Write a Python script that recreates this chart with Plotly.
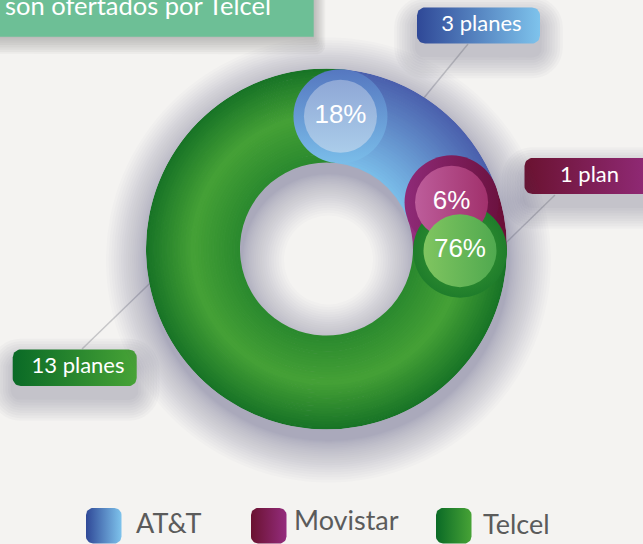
import numpy as np
import plotly.graph_objects as go

# ---------------- data ----------------
carriers = ['AT&T', 'Movistar', 'Telcel']
plans = [3, 1, 13]
plan_labels = ['3 planes', '1 plan', '13 planes']
title_text = 'son ofertados por Telcel'

# ---------------- layout constants ----------------
W, H = 643, 544
BG = '#f4f3f1'
CX, CY = 326.5, 249.0
R_OUT, R_IN = 180.5, 86.5
R_MID = (R_OUT + R_IN) / 2
RING_W = R_OUT - R_IN
START = 6.0
LABEL_D = 73
FONT = 'Lato'

total = sum(plans)
pcts = [f"{round(100 * v / total)}%" for v in plans]
angles = [360.0 * v / total for v in plans]
starts = list(np.cumsum([0] + angles[:-1]) + START)

ring_stops = {
    'AT&T': [(0, '#7abde9'), (1, '#4a5fac')],
    'Movistar': [(0, '#962f7f'), (1, '#6a0f37')],
    'Telcel': [(0, '#2a892e'), (0.5, '#45a136'), (1, '#177326')],
}
cap_style = {
    'AT&T': dict(color='#5577c0', gradient=dict(type='vertical', color='#7abde9')),
    'Movistar': dict(color='#8f2a78', gradient=dict(type='horizontal', color='#6c1240')),
    'Telcel': dict(color='#1f7d2b', gradient=dict(type='radial', color='#3e9d35')),
}
label_style = {
    'AT&T': dict(color='#8ea7d6', gradient=dict(type='vertical', color='#abcdea')),
    'Movistar': dict(color='#bd5d9b', gradient=dict(type='horizontal', color='#a1316c')),
    'Telcel': dict(color='#80c560', gradient=dict(type='horizontal', color='#50a94f')),
}
box_grad = {
    'AT&T': ['#2f4897', '#7ec3ec'],
    'Movistar': ['#6a1230', '#942c7d'],
    'Telcel': ['#0a6a26', '#47a336'],
}


def hex2rgb(h):
    h = h.lstrip('#')
    return [int(h[i:i + 2], 16) for i in (0, 2, 4)]


def interp(stops, t):
    for (t0, c0), (t1, c1) in zip(stops[:-1], stops[1:]):
        if t <= t1 or (t1 == stops[-1][0]):
            f = 0 if t1 == t0 else min(max((t - t0) / (t1 - t0), 0), 1)
            a, b = hex2rgb(c0), hex2rgb(c1)
            return 'rgb(%d,%d,%d)' % tuple(round(a[i] + (b[i] - a[i]) * f) for i in range(3))


def rrect(x0, y0, x1, y1, r, n=10):
    pts = []
    corners = [(x1 - r, y0 + r, -90, 0), (x1 - r, y1 - r, 0, 90),
               (x0 + r, y1 - r, 90, 180), (x0 + r, y0 + r, 180, 270)]
    for cx, cy, a0, a1 in corners:
        for a in np.linspace(np.radians(a0), np.radians(a1), n):
            pts.append((cx + r * np.cos(a), cy + r * np.sin(a)))
    pts.append(pts[0])
    xs, ys = zip(*pts)
    return list(xs), list(ys)


fig = go.Figure()

# ---------- cartesian decorations (pixel space) ----------
def add_fill(xs, ys, color=None, grad=None):
    kw = dict(x=xs, y=ys, mode='lines', line=dict(width=0), fill='toself',
              hoverinfo='skip', showlegend=False)
    if grad:
        kw['fillgradient'] = dict(type='horizontal', colorscale=[[0, grad[0]], [1, grad[1]]])
        kw['fillcolor'] = grad[0]
    else:
        kw['fillcolor'] = color
    fig.add_trace(go.Scatter(**kw))


def add_shadow(x0, y0, x1, y1, r, dy=12, layers=9, alpha=0.035):
    for k in range(layers):
        e = 2 + 2.6 * k
        xs, ys = rrect(x0 - e, y0 - e + dy, x1 + e, y1 + e + dy, r + e)
        add_fill(xs, ys, color=f'rgba(80,85,110,{alpha})')


# title box
for k in range(8):
    xs, ys = rrect(-20, -30, 313.7 + 1 + 1.5 * k, 36.7 + 1.5 + 2.3 * k, 2 + k)
    add_fill(xs, ys, color='rgba(60,60,60,0.045)')
xs, ys = rrect(-20, -30, 313.7, 36.7, 0.01, n=2)
add_fill(xs, ys, color='#6dbf96')
fig.add_trace(go.Scatter(x=[5], y=[9], mode='text', text=[title_text],
                         textposition='middle right', hoverinfo='skip', showlegend=False,
                         textfont=dict(family=FONT, size=25.5, color='white')))

# connectors
connectors = [((468, 44), (405, 121)), ((555, 195), (480, 268)), ((82, 349), (175, 259))]
for (x0, y0), (x1, y1) in connectors:
    fig.add_trace(go.Scatter(x=[x0, x1], y=[y0, y1], mode='lines', hoverinfo='skip',
                             showlegend=False, line=dict(color='#c6c6c8', width=1.5)))

# callout boxes
callouts = [(417, 7.5, 540, 43.5, 481.5, 25.5), (524.5, 158, 660, 194, 589.5, 176),
            (12.7, 349.5, 136.7, 386, 78, 367.5)]
for name, lab, (x0, y0, x1, y1, tx, ty) in zip(carriers, plan_labels, callouts):
    add_shadow(x0, y0, x1, y1, 8)
for name, lab, (x0, y0, x1, y1, tx, ty) in zip(carriers, plan_labels, callouts):
    xs, ys = rrect(x0, y0, x1, y1, 8)
    add_fill(xs, ys, grad=box_grad[name])
    fig.add_trace(go.Scatter(x=[tx], y=[ty], mode='text', text=[lab], textposition='middle center',
                             hoverinfo='skip', showlegend=False,
                             textfont=dict(family=FONT, size=22, color='white')))

# legend
legend_pos = [(86, 136, 526), (251, 294, 523), (436, 483, 527)]
for name, (sx, tx, ty) in zip(carriers, legend_pos):
    xs, ys = rrect(sx, 508, sx + 35.5, 543.5, 7)
    add_fill(xs, ys, grad=box_grad[name])
    fig.add_trace(go.Scatter(x=[tx], y=[ty], mode='text', text=[name], textposition='middle right',
                             hoverinfo='skip', showlegend=False,
                             textfont=dict(family=FONT, size=27, color='#5b5b5b')))

# ---------- donut shadow (polar): stacked translucent annuli ----------
SH_R = 250
SH_DX, SH_DY = 2, 11
ext = [42 * (k / 22) ** 1.4 for k in range(1, 23)]
fig.add_trace(go.Barpolar(
    r=[RING_W + 2 * e for e in ext], base=[R_IN - e for e in ext],
    theta=[0] * len(ext), width=[360] * len(ext),
    marker=dict(color='rgba(98,104,128,0.022)', line=dict(width=0)),
    subplot='polar', hoverinfo='skip', showlegend=False))

# ---------- donut (polar2) ----------
NB = 36
dr = RING_W / NB
for name, s, a in zip(carriers, starts, angles):
    bases = [R_IN + i * dr for i in range(NB)]
    lens = [dr + (0.7 if i < NB - 1 else 0) for i in range(NB)]
    cols = [interp(ring_stops[name], (i + 0.5) / NB) for i in range(NB)]
    fig.add_trace(go.Barpolar(
        r=lens, base=bases, theta=[s + a / 2] * NB, width=[a] * NB,
        marker=dict(color=cols, line=dict(width=0)),
        subplot='polar2', hoverinfo='skip', showlegend=False))

for name, s in zip(carriers, starts):
    fig.add_trace(go.Scatterpolar(
        r=[R_MID], theta=[s], mode='markers', subplot='polar2', hoverinfo='skip', showlegend=False,
        marker=dict(size=RING_W, line=dict(width=0), **cap_style[name])))
for name, s, p in zip(carriers, starts, pcts):
    fig.add_trace(go.Scatterpolar(
        r=[R_MID], theta=[s], mode='markers+text', text=[p], textposition='middle center',
        subplot='polar2', hoverinfo='skip', showlegend=False,
        textfont=dict(family='Liberation Sans', size=26, color='white'),
        marker=dict(size=LABEL_D, line=dict(width=0), **label_style[name])))


def dom(cx, cy, r):
    return dict(x=[(cx - r) / W, (cx + r) / W], y=[(H - cy - r) / H, (H - cy + r) / H])


polar_common = dict(bgcolor='rgba(0,0,0,0)', barmode='overlay', hole=0,
                    angularaxis=dict(visible=False, direction='clockwise', rotation=90,
                                     showgrid=False, showline=False, ticks=''),
                    )
fig.update_layout(
    width=W, height=H, margin=dict(l=0, r=0, t=0, b=0),
    paper_bgcolor=BG, plot_bgcolor='rgba(0,0,0,0)', showlegend=False,
    xaxis=dict(range=[0, W], visible=False, fixedrange=True, domain=[0, 1]),
    yaxis=dict(range=[H, 0], visible=False, fixedrange=True, domain=[0, 1]),
    polar=dict(domain=dom(CX + SH_DX, CY + SH_DY, SH_R),
               radialaxis=dict(visible=False, range=[0, SH_R], showgrid=False),
               **polar_common),
    polar2=dict(domain=dom(CX, CY, R_OUT),
                radialaxis=dict(visible=False, range=[0, R_OUT], showgrid=False),
                **polar_common),
)

fig.write_html('out.html', config={'displayModeBar': False, 'staticPlot': True},
               post_script="document.body.style.margin='0';document.body.style.padding='0';"
                           "document.body.style.background='" + BG + "';")
